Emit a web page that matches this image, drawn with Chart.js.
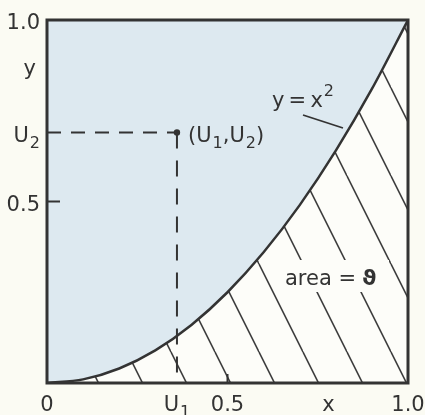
<!DOCTYPE html>
<html>
<head>
<meta charset="utf-8">
<script src="https://cdn.jsdelivr.net/npm/chart.js@4/dist/chart.umd.min.js"></script>
<style>
  html, body { margin: 0; padding: 0; background: #fbfbf3; }
  #wrap { width: 425px; height: 415px; }
</style>
</head>
<body>
<div id="wrap"><canvas id="chart" width="425" height="415"></canvas></div>
<script>
// curve y = x^2, read as points
const curveX = [0, 0.1, 0.2, 0.3, 0.4, 0.5, 0.6, 0.7, 0.8, 0.9, 1.0];
const curveY = [0, 0.01, 0.04, 0.09, 0.16, 0.25, 0.36, 0.49, 0.64, 0.81, 1.0];

// random point (U1, U2)
const U1 = 0.36;
const U2 = 0.69;

const xTickValues = [0, U1, 0.5, 1.0];
const xTickLabels = ['0', 'U_1', '0.5', '1.0'];
const yTickValues = [1.0, U2, 0.5];
const yTickLabels = ['1.0', 'U_2', '0.5'];

const INK       = '#333333';
const BLUE_FILL = '#dde9f0';
const PAPER     = '#fdfdf9';
const FONT      = '21px "DejaVu Sans", sans-serif';

const curvePoints = curveX.map((x, i) => ({ x, y: curveY[i] }));

function hatchPattern() {
    const tile = document.createElement('canvas');
    tile.width = 44;
    tile.height = 88;
    const c = tile.getContext('2d');
    c.fillStyle = PAPER;
    c.fillRect(0, 0, 44, 88);
    c.strokeStyle = '#3c3c3c';
    c.lineWidth = 1.6;
    [-44, 0, 44].forEach(off => {
        c.beginPath();
        c.moveTo(off, 0);
        c.lineTo(off + 44, 88);
        c.stroke();
    });
    const pat = document.getElementById('chart').getContext('2d').createPattern(tile, 'repeat');
    pat.setTransform(new DOMMatrix([1, 0, 0, 1, -5, 0]));
    return pat;
}

// text with _sub and ^sup parts, e.g. 'U_1'
function richParts(str) {
    const parts = [];
    let i = 0;
    while (i < str.length) {
        const ch = str[i];
        if ((ch === '_' || ch === '^') && i + 1 < str.length) {
            parts.push({ t: str[i + 1], mode: ch });
            i += 2;
        } else {
            parts.push({ t: ch, mode: '' });
            i++;
        }
    }
    return parts;
}

function drawRich(ctx, str, x, y, align) {
    const parts = richParts(str);
    const small = '16px "DejaVu Sans", sans-serif';
    let width = 0;
    parts.forEach(p => {
        ctx.font = p.mode ? small : FONT;
        p.w = ctx.measureText(p.t).width + (p.mode ? 1 : 0);
        width += p.w;
    });
    let cx = align === 'center' ? x - width / 2 : align === 'right' ? x - width : x;
    ctx.textBaseline = 'alphabetic';
    ctx.textAlign = 'left';
    parts.forEach(p => {
        ctx.font = p.mode ? small : FONT;
        const dy = p.mode === '_' ? 6 : p.mode === '^' ? -11 : 0;
        ctx.fillText(p.t, cx + (p.mode ? 1 : 0), y + dy);
        cx += p.w;
    });
}

const decorPlugin = {
    id: 'decor',
    beforeDraw(chart) {
        const ctx = chart.ctx;
        ctx.save();
        ctx.fillStyle = '#fbfbf3';
        ctx.fillRect(0, 0, chart.width, chart.height);
        ctx.restore();
    },
    afterDatasetsDraw(chart) {
        const { ctx, chartArea: a, scales } = chart;
        const xs = scales.x, ys = scales.y;
        ctx.save();

        // frame
        ctx.strokeStyle = INK;
        ctx.lineWidth = 3;
        ctx.strokeRect(a.left, a.top, a.right - a.left, a.bottom - a.top);

        // inner ticks at 0.5
        ctx.lineWidth = 2;
        const tx = xs.getPixelForValue(0.5);
        ctx.beginPath(); ctx.moveTo(tx, a.bottom); ctx.lineTo(tx, a.bottom - 9); ctx.stroke();
        const ty = ys.getPixelForValue(0.5);
        ctx.beginPath(); ctx.moveTo(a.left, ty); ctx.lineTo(a.left + 13, ty); ctx.stroke();

        ctx.fillStyle = INK;

        // tick labels
        xTickValues.forEach((v, i) => {
            drawRich(ctx, xTickLabels[i], xs.getPixelForValue(v), a.bottom + 28, 'center');
        });
        yTickValues.forEach((v, i) => {
            drawRich(ctx, yTickLabels[i], 40, ys.getPixelForValue(v) + 9, 'right');
        });

        // axis names
        drawRich(ctx, 'x', xs.getPixelForValue(0.78), a.bottom + 28, 'center');
        drawRich(ctx, 'y', 36, 75, 'right');

        // point label
        drawRich(ctx, '(U_1,U_2)', xs.getPixelForValue(U1) + 11, ys.getPixelForValue(U2) + 9, 'left');

        // curve label with leader
        drawRich(ctx, 'y\u2009=\u2009x^2', 272, 107, 'left');
        ctx.lineWidth = 1.8;
        ctx.beginPath(); ctx.moveTo(303, 115); ctx.lineTo(343, 128); ctx.stroke();

        // area label over the hatching
        ctx.fillStyle = PAPER;
        ctx.fillRect(289, 260, 100, 32);
        ctx.fillStyle = INK;
        ctx.font = FONT;
        ctx.textBaseline = 'alphabetic';
        ctx.textAlign = 'left';
        ctx.fillText('area =', 285, 285);
        ctx.font = 'bold 22px "DejaVu Sans", sans-serif';
        ctx.fillText('\u03D1', 362, 285);

        ctx.restore();
    }
};

new Chart(document.getElementById('chart'), {
    type: 'line',
    data: {
        datasets: [
            {
                data: curvePoints,
                borderColor: INK,
                borderWidth: 2.5,
                backgroundColor: BLUE_FILL,
                fill: 'end',
                pointRadius: 0,
                cubicInterpolationMode: 'monotone',
                order: 1,
            },
            {
                data: curvePoints,
                borderWidth: 0,
                borderColor: 'transparent',
                backgroundColor: hatchPattern(),
                fill: 'origin',
                pointRadius: 0,
                cubicInterpolationMode: 'monotone',
                order: 2,
            },
            {
                data: [{ x: 0, y: U2 }, { x: U1, y: U2 }],
                borderColor: INK,
                borderWidth: 2,
                borderDash: [14, 10],
                pointRadius: 0,
                fill: false,
                order: 0,
            },
            {
                data: [{ x: U1, y: U2 }, { x: U1, y: 0 }],
                borderColor: INK,
                borderWidth: 2,
                borderDash: [16, 12],
                pointRadius: 0,
                fill: false,
                order: 0,
            },
            {
                data: [{ x: U1, y: U2 }],
                showLine: false,
                pointRadius: 3.2,
                pointBackgroundColor: INK,
                pointBorderWidth: 0,
                order: 0,
            },
        ],
    },
    options: {
        responsive: false,
        animation: false,
        layout: { padding: { left: 47, right: 17, top: 20, bottom: 32 } },
        plugins: { legend: { display: false }, tooltip: { enabled: false } },
        scales: {
            x: { type: 'linear', min: 0, max: 1, display: false },
            y: { type: 'linear', min: 0, max: 1, display: false },
        },
    },
    plugins: [decorPlugin],
});
</script>
</body>
</html>
